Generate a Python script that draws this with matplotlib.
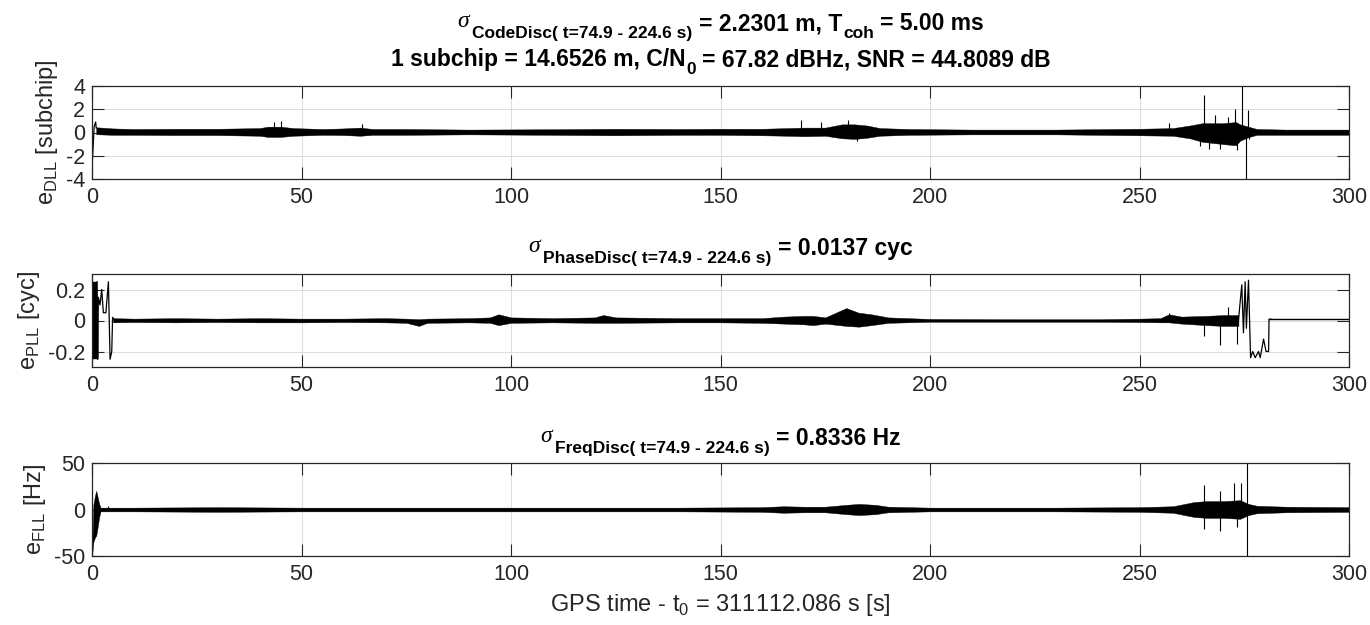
import numpy as np
import matplotlib
matplotlib.use("Agg")
import matplotlib.pyplot as plt

# -------------------------------------------------
# Values
# -------------------------------------------------

x_ticks = [0, 50, 100, 150, 200, 250, 300]

# DLL discriminator (subchip): start transient, noise envelope, spikes
dll_start_t = [0.0, 0.2, 0.5, 0.85, 1.0]
dll_start_v = [-3.0, -1.6, 0.5, 0.9, 0.4]

dll_t  = [1, 5, 10, 20, 30, 40, 42, 45, 48, 55, 60, 64, 67, 75, 90, 110, 125, 140, 150, 160,
          166, 170, 175, 179, 182, 185, 188, 195, 210, 230, 250, 258, 262, 265, 270, 273, 274,
          276, 278, 285, 300]
dll_up = [0.45, 0.35, 0.3, 0.32, 0.32, 0.38, 0.5, 0.5, 0.38, 0.3, 0.35, 0.42, 0.3, 0.3, 0.25,
          0.28, 0.32, 0.3, 0.32, 0.32, 0.38, 0.42, 0.42, 0.7, 0.7, 0.6, 0.38, 0.3, 0.25, 0.25,
          0.32, 0.38, 0.6, 0.8, 0.8, 0.9, 0.7, 0.5, 0.3, 0.25, 0.25]
dll_lo = [-0.15, -0.2, -0.2, -0.22, -0.22, -0.28, -0.38, -0.38, -0.28, -0.2, -0.22, -0.28,
          -0.2, -0.2, -0.16, -0.2, -0.24, -0.2, -0.2, -0.24, -0.28, -0.32, -0.28, -0.5, -0.55,
          -0.45, -0.28, -0.2, -0.16, -0.16, -0.24, -0.28, -0.5, -0.8, -1.0, -1.1, -0.7, -0.4,
          -0.2, -0.2, -0.2]

dll_spike_t = [43.5, 45.2, 64.5, 169.2, 174.0, 180.5, 182.5, 257.0, 264.5, 265.3, 266.5,
               268.0, 269.1, 271.0, 272.8, 273.2, 274.5, 275.5, 275.8, 276.2]
dll_spike_v = [0.9, 1.0, 0.7, 1.1, 0.9, 1.1, -0.75, 0.8, -1.2, 3.2, -1.4, 1.5, -1.4, 1.3,
               2.0, -1.5, 4.0, -4.0, 1.9, -0.6]

# PLL discriminator (cycles)
pll_block_t  = [0.0, 1.2]
pll_block_up = [0.25, 0.25]
pll_block_lo = [-0.25, -0.25]

pll_start_t = [1.2, 1.35, 1.5, 1.9, 2.3, 2.7, 3.3, 3.9, 4.3, 4.7, 4.9, 5.2]
pll_start_v = [0.25, -0.25, 0.15, 0.1, 0.2, 0.05, 0.05, 0.25, -0.25, -0.2, 0.02, 0.01]

pll_t  = [5, 10, 20, 30, 40, 50, 60, 70, 75, 78, 80, 90, 95, 97, 100, 110, 120, 122, 125,
          140, 150, 160, 165, 170, 172, 175, 180, 183, 186, 190, 200, 220, 240, 250, 255, 257,
          260, 266, 270, 273.6]
pll_up = [0.015, 0.012, 0.015, 0.012, 0.015, 0.012, 0.012, 0.015, 0.012, 0.008, 0.012, 0.015,
          0.02, 0.04, 0.02, 0.015, 0.02, 0.035, 0.02, 0.015, 0.015, 0.015, 0.025, 0.03, 0.03,
          0.02, 0.08, 0.05, 0.04, 0.02, 0.01, 0.008, 0.008, 0.012, 0.015, 0.04, 0.025, 0.03,
          0.035, 0.035]
pll_lo = [-0.012, -0.01, -0.012, -0.01, -0.012, -0.012, -0.01, -0.012, -0.015, -0.035,
          -0.015, -0.012, -0.015, -0.03, -0.015, -0.012, -0.015, -0.015, -0.015, -0.012,
          -0.012, -0.015, -0.02, -0.025, -0.03, -0.02, -0.035, -0.04, -0.03, -0.015, -0.008,
          -0.008, -0.008, -0.01, -0.012, -0.012, -0.02, -0.03, -0.035, -0.035]

pll_spike_t = [257.0, 265.3, 269.1, 271.0, 273.2]
pll_spike_v = [0.05, -0.10, -0.155, 0.09, -0.15]

pll_end_t = [273.6, 274.4, 274.8, 275.2, 275.5, 276.0, 276.5, 277.0, 277.6, 278.4, 278.8,
             279.6, 280.2, 280.8, 280.9, 281.5]
pll_end_v = [0.0, 0.23, -0.08, 0.25, -0.05, 0.26, -0.24, -0.2, -0.24, -0.2, -0.24, -0.12,
             -0.2, -0.2, 0.008, 0.008]

pll_tail_t  = [281, 290, 300]
pll_tail_up = [0.012, 0.012, 0.012]
pll_tail_lo = [0.003, 0.003, 0.003]

# FLL discriminator (Hz)
fll_start_t  = [0.0, 0.3, 0.7, 1.0, 1.3, 1.7, 2.0]
fll_start_up = [-48, 5, 15, 20, 14, 6, 2.5]
fll_start_lo = [-50, -35, -30, -28, -20, -8, -2.5]

fll_t  = [2, 10, 30, 50, 80, 100, 120, 140, 160, 165, 170, 175, 180, 183, 187, 190, 200, 230,
          250, 258, 263, 266, 270, 274, 276, 278, 285, 300]
fll_up = [2, 2, 2.5, 2, 2, 2, 2, 2, 2.5, 3.5, 3, 3, 5, 6, 5, 3, 2, 2, 2.5, 3.5, 8, 9, 9, 10,
          6, 4, 3, 2.5]
fll_lo = [-2, -2, -2.5, -2, -2, -2, -2, -2, -2.5, -3.5, -3, -3, -5, -6, -5, -3, -2, -2, -2.5,
          -3.5, -8, -9, -9, -10, -6, -4, -3, -2.5]

fll_spike_t = [3.9, 265.3, 265.4, 269.1, 269.2, 272.6, 273.2, 274.2, 275.6, 275.6]
fll_spike_v = [4, 26, -21, 20, -23, 28, -19, 28, 50, -50]

# -------------------------------------------------
# Style (MATLAB look)
# -------------------------------------------------

plt.rcParams["font.family"] = ["Liberation Sans", "DejaVu Sans"]
plt.rcParams["mathtext.fontset"] = "custom"
plt.rcParams["mathtext.rm"] = "Liberation Sans"
plt.rcParams["mathtext.bf"] = "Liberation Sans:bold"
plt.rcParams["axes.unicode_minus"] = False

edge = "#262626"
tick_fs = 15.5
label_fs = 17

W, H = 1370, 625
fig = plt.figure(figsize=(W / 100, H / 100), dpi=100)

left, width, height = 0.0672, 0.9175, 0.1488
bottoms = [0.7136, 0.4128, 0.1104]
axes = [fig.add_axes([left, b, width, height]) for b in bottoms]


def style_axis(ax, yticks, ylim, ylabel):
    ax.set_xlim(0, 300)
    ax.set_ylim(*ylim)
    ax.set_xticks(x_ticks)
    ax.set_yticks(yticks)
    ax.set_yticklabels([f"{v:g}" for v in yticks])
    ax.grid(True, color="#dcdcdc", linewidth=0.7)
    ax.set_axisbelow(True)
    ax.tick_params(direction="in", length=8.6, width=0.8, color=edge,
                   top=True, right=True, labelsize=tick_fs, labelcolor=edge)
    ax.tick_params(axis="x", pad=6)
    ax.tick_params(axis="y", pad=5)
    for s in ax.spines.values():
        s.set_color(edge)
        s.set_linewidth(0.9)
    ax.set_ylabel(ylabel, fontsize=label_fs, color=edge, labelpad=4)


def band(ax, t, lo, up):
    ax.fill_between(t, lo, up, color="black", linewidth=0.3, edgecolor="black")


# ---------------- DLL ----------------
ax = axes[0]
band(ax, dll_t, dll_lo, dll_up)
ax.plot(dll_start_t, dll_start_v, color="black", lw=0.9)
ax.vlines(dll_spike_t, 0, dll_spike_v, color="black", lw=0.8)
style_axis(ax, [-4, -2, 0, 2, 4], (-4, 4), r"e$_{\mathrm{DLL}}$ [subchip]")

# ---------------- PLL ----------------
ax = axes[1]
band(ax, pll_block_t, pll_block_lo, pll_block_up)
ax.plot(pll_start_t, pll_start_v, color="black", lw=0.9)
band(ax, pll_t, pll_lo, pll_up)
ax.vlines(pll_spike_t, 0, pll_spike_v, color="black", lw=0.8)
ax.plot(pll_end_t, pll_end_v, color="black", lw=0.9)
band(ax, pll_tail_t, pll_tail_lo, pll_tail_up)
style_axis(ax, [-0.2, 0, 0.2], (-0.3, 0.3), r"e$_{\mathrm{PLL}}$ [cyc]")

# ---------------- FLL ----------------
ax = axes[2]
band(ax, fll_start_t, fll_start_lo, fll_start_up)
band(ax, fll_t, fll_lo, fll_up)
ax.vlines(fll_spike_t, 0, fll_spike_v, color="black", lw=0.8)
style_axis(ax, [-50, 0, 50], (-50, 50), r"e$_{\mathrm{FLL}}$ [Hz]")
ax.set_xlabel(r"GPS time - t$_{\mathrm{0}}$ = 311112.086 s [s]", fontsize=label_fs,
              color=edge, labelpad=5)

# -------------------------------------------------
# Titles: TeX-like pieces (sigma, bold subscripts) laid out side by side
# -------------------------------------------------

renderer = fig.canvas.get_renderer()
cx = (left + width / 2) * W


def rich_title(baseline_px, parts):
    # parts: (text, fontsize, dy_px, gap_px_before, serif_italic)
    items = []
    x = 0.0
    for txt, fs, dy, gap, greek in parts:
        kw = dict(fontsize=fs, color="black", ha="left", va="baseline")
        if greek:
            kw.update(family="Liberation Serif", style="italic")
        else:
            kw.update(fontweight="bold")
        t = fig.text(0, 0, txt, **kw)
        x += gap
        w = t.get_window_extent(renderer).width
        items.append((t, x, dy))
        x += w
    x0 = cx - x / 2
    for t, xi, dy in items:
        t.set_position(((x0 + xi) / W, 1 - (baseline_px - dy) / H))


main_fs, sub_fs, sig_fs = 16.5, 12.5, 17

rich_title(30, [("σ", sig_fs, 3, 0, True),
                ("CodeDisc( t=74.9 - 224.6 s)", sub_fs, -8, 3, False),
                ("= 2.2301 m, T", main_fs, 0, 7, False),
                ("coh", sub_fs, -8, 1, False),
                ("= 5.00 ms", main_fs, 0, 6, False)])
rich_title(66, [("1 subchip = 14.6526 m, C/N", main_fs, 0, 0, False),
                ("0", sub_fs, -8, 1, False),
                ("= 67.82 dBHz, SNR = 44.8089 dB", main_fs, 0, 6, False)])
rich_title(255, [("σ", sig_fs, 3, 0, True),
                 ("PhaseDisc( t=74.9 - 224.6 s)", sub_fs, -8, 3, False),
                 ("= 0.0137 cyc", main_fs, 0, 7, False)])
rich_title(445, [("σ", sig_fs, 3, 0, True),
                 ("FreqDisc( t=74.9 - 224.6 s)", sub_fs, -8, 3, False),
                 ("= 0.8336 Hz", main_fs, 0, 7, False)])

plt.savefig("out.png", dpi=100)
